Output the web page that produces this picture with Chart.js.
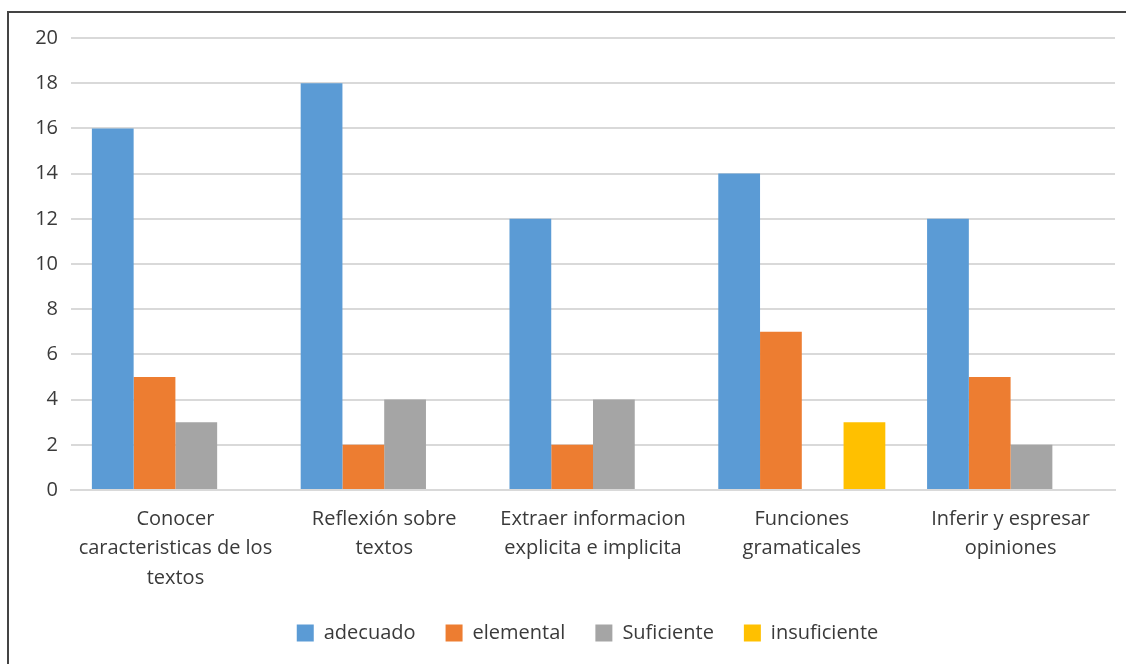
<!DOCTYPE html>
<html>
<head>
<meta charset="utf-8">
<script src="https://cdn.jsdelivr.net/npm/chart.js@4"></script>
<style>
  html, body { margin: 0; padding: 0; background: #fff; }
  #wrap { position: relative; width: 1126px; height: 664px; overflow: hidden; }
  #frame { position: absolute; left: 7px; top: 11px; width: 1140px; height: 680px; border-left: 2px solid #444; border-top: 2px solid #444; box-sizing: border-box; pointer-events: none; }
  canvas { position: absolute; left: 0; top: 0; }
</style>
</head>
<body>
<div id="wrap">
  <canvas id="c" width="1126" height="664"></canvas>
  <div id="frame"></div>
</div>
<script>
// categories (multi-line labels as in the original)
const categories = [
  ['Conocer', 'caracteristicas de los', 'textos'],
  ['Reflexión sobre', 'textos'],
  ['Extraer informacion', 'explicita e implicita'],
  ['Funciones', 'gramaticales'],
  ['Inferir y espresar', 'opiniones'],
];
const adecuado     = [16, 18, 12, 14, 12];
const elemental    = [5, 2, 2, 7, 5];
const suficiente   = [3, 4, 4, 0, 2];
const insuficiente = [0, 0, 0, 3, 0];
const yTicks = [0, 2, 4, 6, 8, 10, 12, 14, 16, 18, 20];

const FONT = '"Open Sans", "Noto Sans", sans-serif';
const TXT = '#3a3a3a';

const ds = (label, data, color) => ({ label, data, backgroundColor: color, borderWidth: 0 });

// nudge the legend a bit to the right like the original
const legendShift = {
  id: 'legendShift',
  afterLayout(chart) {
    const lg = chart.legend;
    if (!lg) return;
    lg.left += 30; lg.right += 30;
  },
};

new Chart(document.getElementById('c'), {
  type: 'bar',
  data: {
    labels: categories,
    datasets: [
      ds('adecuado', adecuado, '#5B9BD5'),
      ds('elemental', elemental, '#ED7D31'),
      ds('Suficiente', suficiente, '#A5A5A5'),
      ds('insuficiente', insuficiente, '#FFC000'),
    ],
  },
  plugins: [legendShift],
  options: {
    responsive: false,
    animation: false,
    layout: { padding: { top: 38, right: 11, left: 0, bottom: 11 } },
    datasets: { bar: { categoryPercentage: 0.8, barPercentage: 1 } },
    plugins: {
      tooltip: { enabled: false },
      legend: {
        position: 'bottom',
        labels: {
          font: { family: FONT, size: 20 },
          color: TXT,
          boxWidth: 17,
          boxHeight: 17,
          padding: 30,
        },
      },
    },
    scales: {
      x: {
        grid: { display: false, drawTicks: false },
        border: { display: true, color: '#d9d9d9', width: 2 },
        ticks: {
          font: { family: FONT, size: 20, lineHeight: 1.48 },
          color: TXT,
          padding: 14,
          maxRotation: 0,
          autoSkip: false,
        },
        afterFit: s => { s.height = 103; },
      },
      y: {
        min: 0,
        max: 20,
        afterBuildTicks: s => { s.ticks = yTicks.map(v => ({ value: v })); },
        grid: { color: '#d9d9d9', lineWidth: 2, drawTicks: false },
        border: { display: false },
        ticks: {
          font: { family: FONT, size: 20 },
          color: TXT,
          padding: 13,
        },
        afterFit: s => { s.width = 71; },
      },
    },
  },
});
</script>
</body>
</html>
